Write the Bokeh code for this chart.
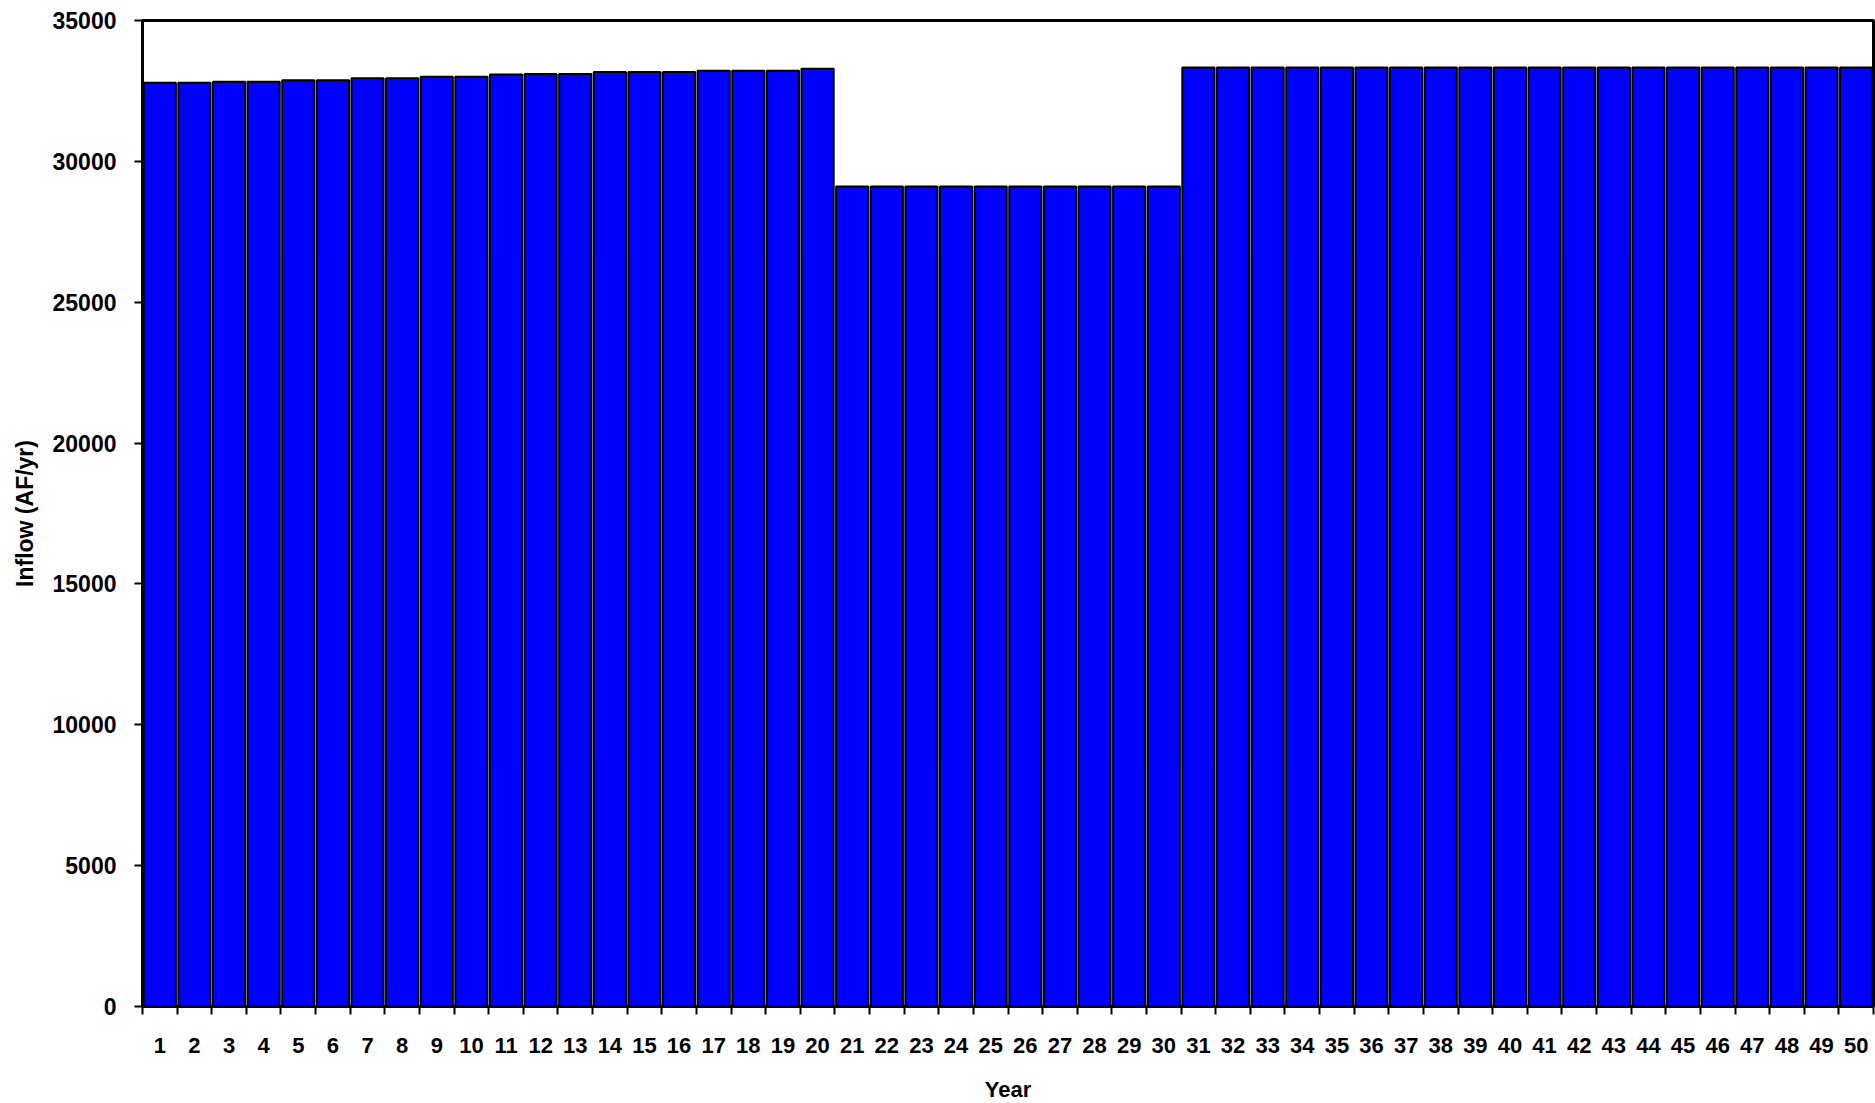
from bokeh.plotting import figure
from bokeh.models import FixedTicker, Range1d, ColumnDataSource
from bokeh.embed import file_html
from bokeh.resources import INLINE

# Data
years = list(range(1, 51))
inflow = [32790, 32790, 32825, 32825, 32880, 32880, 32950, 32950, 33005, 33005,
          33080, 33105, 33105, 33175, 33175, 33175, 33215, 33215, 33215, 33285,
          29110, 29110, 29110, 29110, 29110, 29110, 29110, 29110, 29110, 29110,
          33330, 33330, 33330, 33330, 33330, 33330, 33330, 33330, 33330, 33330,
          33330, 33330, 33330, 33330, 33330, 33330, 33330, 33330, 33330, 33330]
y_ticks = [0, 5000, 10000, 15000, 20000, 25000, 30000, 35000]
x_label = "Year"
y_label = "Inflow (AF/yr)"

FONT = "Liberation Sans"

src = ColumnDataSource(dict(x=years, y=inflow))

p = figure(frame_width=1731, frame_height=986, output_backend="svg", toolbar_location=None,
           x_range=Range1d(0.5, len(years) + 0.5), y_range=Range1d(0, 35000),
           min_border_left=142, min_border_right=2, min_border_top=20, min_border_bottom=94)

p.vbar(x="x", top="y", width=0.93, source=src, fill_color="#0000FF",
       line_color="black", line_width=2)

p.xgrid.visible = False
p.ygrid.visible = False
p.outline_line_color = "black"
p.outline_line_width = 3
p.background_fill_color = "white"

# X axis: labels at centers, ticks at boundaries
xt = FixedTicker(ticks=years, minor_ticks=[y - 0.5 for y in years] + [len(years) + 0.5])
p.xaxis.ticker = xt
p.xaxis.major_tick_out = 0
p.xaxis.major_tick_in = 0
p.xaxis.minor_tick_out = 8
p.xaxis.minor_tick_in = 0
p.xaxis.minor_tick_line_width = 2
p.xaxis.minor_tick_line_color = "black"
p.xaxis.axis_line_width = 3
p.xaxis.axis_line_color = "black"
p.xaxis.major_label_standoff = 23
p.xaxis.major_label_text_font = FONT
p.xaxis.major_label_text_font_style = "bold"
p.xaxis.major_label_text_font_size = "22px"
p.xaxis.major_label_text_color = "black"
p.xaxis.axis_label = x_label
p.xaxis.axis_label_text_font = FONT
p.xaxis.axis_label_text_font_style = "bold"
p.xaxis.axis_label_text_font_size = "22px"
p.xaxis.axis_label_text_color = "black"
p.xaxis.axis_label_standoff = 21

# Y axis
p.yaxis.ticker = FixedTicker(ticks=y_ticks)
p.yaxis.major_tick_out = 8
p.yaxis.major_tick_in = 0
p.yaxis.major_tick_line_width = 2
p.yaxis.minor_tick_out = 0
p.yaxis.minor_tick_in = 0
p.yaxis.axis_line_width = 3
p.yaxis.axis_line_color = "black"
p.yaxis.major_label_standoff = 18
p.yaxis.major_label_text_font = FONT
p.yaxis.major_label_text_font_style = "bold"
p.yaxis.major_label_text_font_size = "23px"
p.yaxis.major_label_text_color = "black"
p.yaxis.axis_label = y_label
p.yaxis.axis_label_text_font = FONT
p.yaxis.axis_label_text_font_style = "bold"
p.yaxis.axis_label_text_font_size = "23px"
p.yaxis.axis_label_text_color = "black"
p.yaxis.axis_label_standoff = 12

open("out.html", "w").write(file_html(p, INLINE))
